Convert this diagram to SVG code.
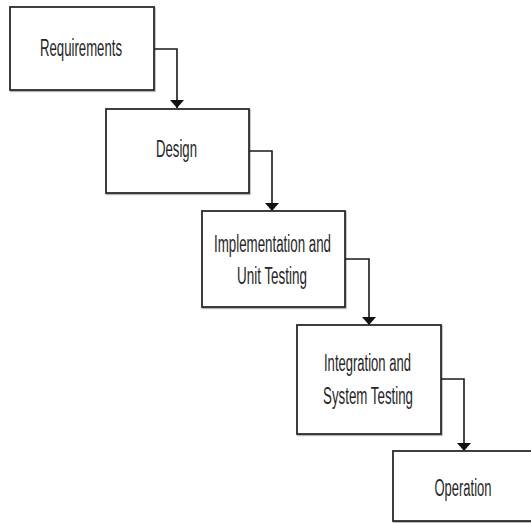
<svg xmlns="http://www.w3.org/2000/svg" width="531" height="523" viewBox="0 0 531 523">
  <defs>
    <marker id="arrow" viewBox="0 0 8 14" refX="8" refY="7" markerWidth="8" markerHeight="14" markerUnits="userSpaceOnUse" orient="auto">
      <path d="M0,0 L8,7 L0,14 Z" fill="#111"/>
    </marker>
    <filter id="shadow" x="-5%" y="-5%" width="115%" height="115%">
      <feDropShadow dx="0.8" dy="1.2" stdDeviation="0.7" flood-color="#000" flood-opacity="0.3"/>
    </filter>
  </defs>
  <style>
    .box { fill: #fff; stroke: #2b2b2b; stroke-width: 1.8; filter: url(#shadow); }
    .lbl { font-family: "Liberation Sans", Arial, sans-serif; font-size: 23px; fill: #262626; text-anchor: middle; }
    .conn { fill: none; stroke: #1a1a1a; stroke-width: 1.6; marker-end: url(#arrow); }
  </style>
  <rect width="531" height="523" fill="#fff"/>

  <g id="connectors">
    <path class="conn" d="M154,49 H177 V108"/>
    <path class="conn" d="M249,151 H272 V211"/>
    <path class="conn" d="M345,259 H369 V325"/>
    <path class="conn" d="M441,379 H464 V451"/>
  </g>

  <g id="requirements">
    <rect class="box" x="10" y="7" width="144" height="83"/>
    <text class="lbl" x="81" y="56" textLength="82" lengthAdjust="spacingAndGlyphs">Requirements</text>
  </g>

  <g id="design">
    <rect class="box" x="106" y="109" width="143" height="84"/>
    <text class="lbl" x="176.5" y="156.5" textLength="41" lengthAdjust="spacingAndGlyphs">Design</text>
  </g>

  <g id="implementation">
    <rect class="box" x="202" y="211" width="143" height="96"/>
    <text class="lbl" x="272.5" y="251.5" textLength="117" lengthAdjust="spacingAndGlyphs">Implementation and</text>
    <text class="lbl" x="272" y="284" textLength="70" lengthAdjust="spacingAndGlyphs">Unit Testing</text>
  </g>

  <g id="integration">
    <rect class="box" x="297" y="325" width="144" height="109"/>
    <text class="lbl" x="367.5" y="371" textLength="87" lengthAdjust="spacingAndGlyphs">Integration and</text>
    <text class="lbl" x="368" y="403.5" textLength="90" lengthAdjust="spacingAndGlyphs">System Testing</text>
  </g>

  <g id="operation">
    <rect class="box" x="393" y="451" width="145" height="70"/>
    <text class="lbl" x="463" y="496" textLength="57" lengthAdjust="spacingAndGlyphs">Operation</text>
  </g>
</svg>
